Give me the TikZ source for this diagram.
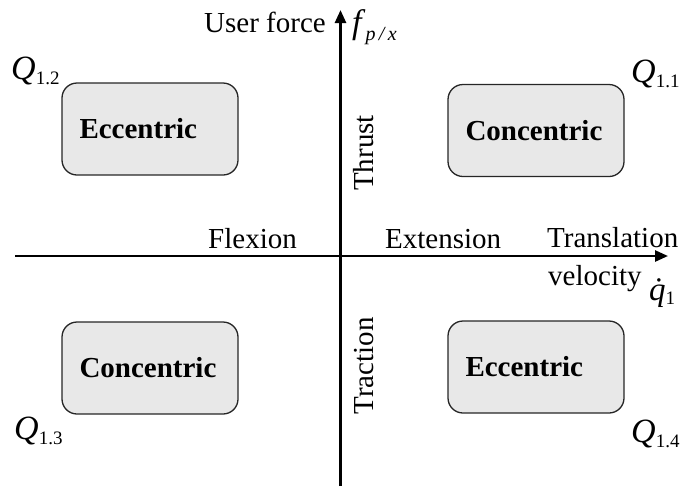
\documentclass[tikz,border=0pt]{standalone}
\usepackage{fontspec}
\setmainfont{Liberation Serif}
\usetikzlibrary{arrows.meta}
\tikzset{
  quad/.style={draw=black!85, line width=1.3pt, fill=black!9, rounded corners=15pt,
    minimum width=176pt, minimum height=92pt, text width=141pt, inner xsep=17.5pt,
    align=left, font=\fontsize{29}{32}\selectfont\bfseries},
  lbl/.style={inner sep=0pt, font=\fontsize{29}{32}\selectfont},
  axis/.style={line width=2.6pt, -{Triangle[length=13pt,width=11pt]}}
}
\newcommand{\qlab}[1]{{\fontsize{34}{34}\selectfont\textit{Q}}\raisebox{-5pt}{\fontsize{19}{19}\selectfont #1}}
\begin{document}
\begin{tikzpicture}[x=1pt,y=-1pt]
\useasboundingbox (0,0) rectangle (684,488);
% axes
\coordinate (vb) at (340.5,486);
\coordinate (vt) at (340.5,10);
\coordinate (hl) at (15,256);
\coordinate (hr) at (668,256);
\draw[axis] (hl) -- (hr);
\draw[axis] (vb) -- (vt);
% boxes
\node[quad] (b12) at (150,129) {Eccentric};
\node[quad] (b11) at (536,130.5) {Concentric};
\node[quad] (b13) at (150,368) {Concentric};
\node[quad] (b14) at (536,367) {Eccentric};
% quadrant labels
\node[lbl, anchor=base west] (q12) at (11,79) {\qlab{1.2}};
\node[lbl, anchor=base west] (q11) at (631,82) {\qlab{1.1}};
\node[lbl, anchor=base west] (q13) at (14,439) {\qlab{1.3}};
\node[lbl, anchor=base west] (q14) at (631,442) {\qlab{1.4}};
% axis labels
\node[lbl, anchor=base east] (uf) at (326,32) {User force};
\node[lbl, anchor=base west] (fp) at (352,33) {{\fontsize{34}{34}\selectfont\textit{f}}\raisebox{-7pt}{\fontsize{20}{20}\selectfont\itshape p\,/\,x}};
\node[lbl, anchor=base west] (fl) at (208,248) {Flexion};
\node[lbl, anchor=base west] (ex) at (385,248) {Extension};
\node[lbl, anchor=base west] (tr) at (547,247) {Translation};
\node[lbl, anchor=base west] (ve) at (548,285) {velocity};
\node[lbl, anchor=base west] (qd) at (649,300) {{\fontsize{33}{33}\selectfont\itshape\.{q}}\raisebox{-4pt}{\fontsize{19}{19}\selectfont 1}};
\node[lbl, rotate=90] (th) at (364,153) {Thrust};
\node[lbl, rotate=90] (tc) at (364,366) {Traction};
\end{tikzpicture}
\end{document}
